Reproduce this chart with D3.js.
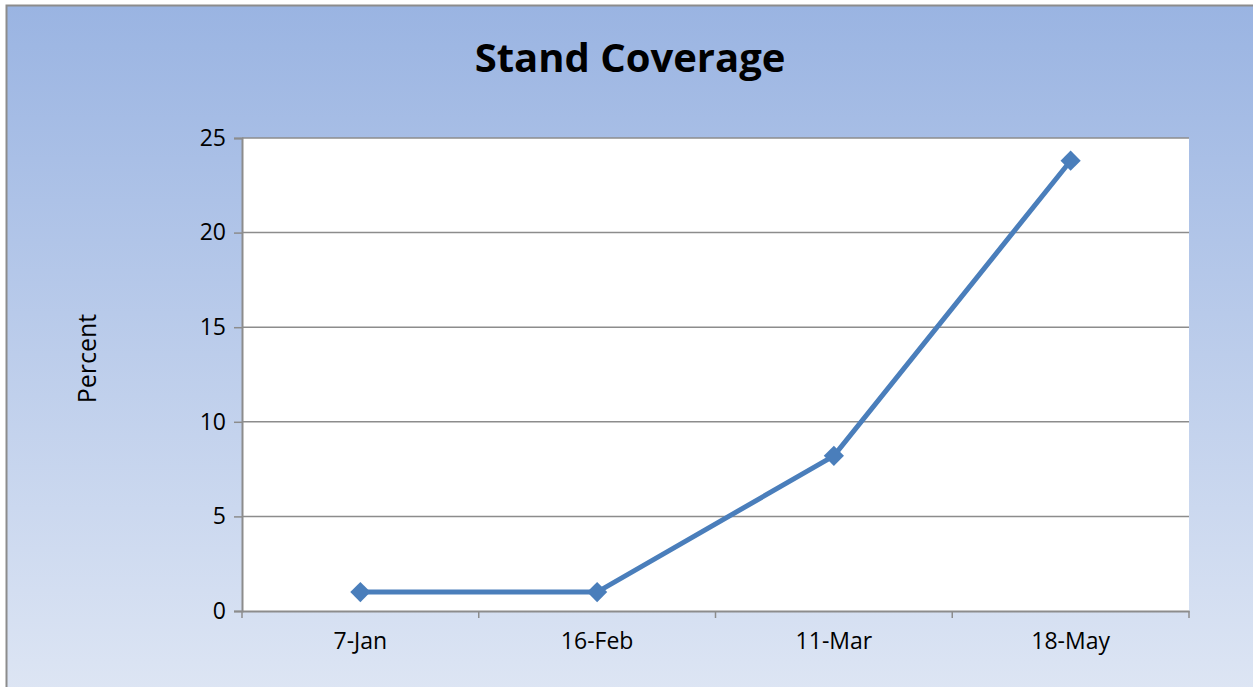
<!DOCTYPE html>
<html>
<head>
<meta charset="utf-8">
<script src="https://cdn.jsdelivr.net/npm/d3@7"></script>
<style>
    body { margin: 0; background: #ffffff; }
    svg, svg text { font-family: "Open Sans", "Liberation Sans", sans-serif; }
</style>
</head>
<body>
<div id="chart"></div>
<script>
var dates = ["7-Jan", "16-Feb", "11-Mar", "18-May"];
var coverage = [1, 1, 8.2, 23.8];
var yTicks = [0, 5, 10, 15, 20, 25];

var W = 1253, H = 687;
var margin = { top: 138, right: 64, bottom: 76, left: 242 },
    width = 1189 - margin.left,
    height = 611 - margin.top;

var root = d3.select("#chart")
    .append("svg")
    .attr("width", W)
    .attr("height", H);

var grad = root.append("defs").append("linearGradient")
    .attr("id", "bg")
    .attr("x1", 0).attr("y1", 0).attr("x2", 0).attr("y2", 1);
grad.append("stop").attr("offset", "0%").attr("stop-color", "#9ab4e2");
grad.append("stop").attr("offset", "100%").attr("stop-color", "#dee6f4");

// outer chart area (cut off on right and bottom like the original)
root.append("rect")
    .attr("x", 6.5).attr("y", 5.5)
    .attr("width", W + 10).attr("height", H + 10)
    .attr("fill", "url(#bg)")
    .attr("stroke", "#8c8c8c")
    .attr("stroke-width", 2);

root.append("text")
    .attr("x", 630)
    .attr("y", 72)
    .attr("text-anchor", "middle")
    .style("font-size", "40px")
    .style("font-weight", "bold")
    .text("Stand Coverage");

var svg = root.append("g")
    .attr("transform", "translate(" + margin.left + "," + margin.top + ")");

svg.append("rect")
    .attr("width", width)
    .attr("height", height)
    .attr("fill", "#ffffff");

var x = d3.scaleBand().domain(dates).range([0, width]);
var y = d3.scaleLinear().domain([0, 25]).range([height, 0]);

// gridlines
svg.selectAll(".grid")
    .data(yTicks.slice(1))
    .enter()
    .append("line")
    .attr("x1", 0)
    .attr("x2", width)
    .attr("y1", (d) => y(d))
    .attr("y2", (d) => y(d))
    .attr("stroke", "#8c8c8c")
    .attr("stroke-width", 1.5);

var yAxis = svg.append("g")
    .call(d3.axisLeft(y).tickValues(yTicks).tickSize(8).tickPadding(8));
yAxis.attr("font-family", null).attr("font-size", null);
yAxis.select(".domain").attr("stroke", "#8c8c8c").attr("stroke-width", 2);
yAxis.selectAll(".tick line").attr("stroke", "#8c8c8c").attr("stroke-width", 1.5);
yAxis.selectAll(".tick text").style("font-size", "23px").attr("fill", "#000");

var xAxis = svg.append("g")
    .attr("transform", "translate(0," + height + ")")
    .call(d3.axisBottom(x).tickSize(0).tickPadding(22));
xAxis.attr("font-family", null).attr("font-size", null);
xAxis.select(".domain").attr("stroke", "#8c8c8c").attr("stroke-width", 2);
xAxis.selectAll(".tick text").style("font-size", "23px").attr("fill", "#000");

// category boundary ticks
svg.selectAll(".xtick")
    .data(dates.concat([null]))
    .enter()
    .append("line")
    .attr("x1", (d, i) => i * x.step())
    .attr("x2", (d, i) => i * x.step())
    .attr("y1", height)
    .attr("y2", height + 7)
    .attr("stroke", "#8c8c8c")
    .attr("stroke-width", 1.5);

root.append("text")
    .attr("transform", "translate(96," + (margin.top + height / 2 - 16) + ") rotate(-90)")
    .attr("text-anchor", "middle")
    .style("font-size", "25px")
    .text("Percent");

var pts = dates.map((d, i) => ({ date: d, value: coverage[i] }));

svg.append("path")
    .datum(pts)
    .attr("fill", "none")
    .attr("stroke", "#4a7ebb")
    .attr("stroke-width", 5)
    .attr("d", d3.line()
        .x((d) => x(d.date) + x.bandwidth() / 2)
        .y((d) => y(d.value)));

svg.selectAll(".marker")
    .data(pts)
    .enter()
    .append("path")
    .attr("transform", (d) => "translate(" + (x(d.date) + x.bandwidth() / 2) + "," + y(d.value) + ")")
    .attr("d", d3.symbol().type(d3.symbolDiamond2).size(260))
    .attr("fill", "#4a7ebb");
</script>
</body>
</html>
